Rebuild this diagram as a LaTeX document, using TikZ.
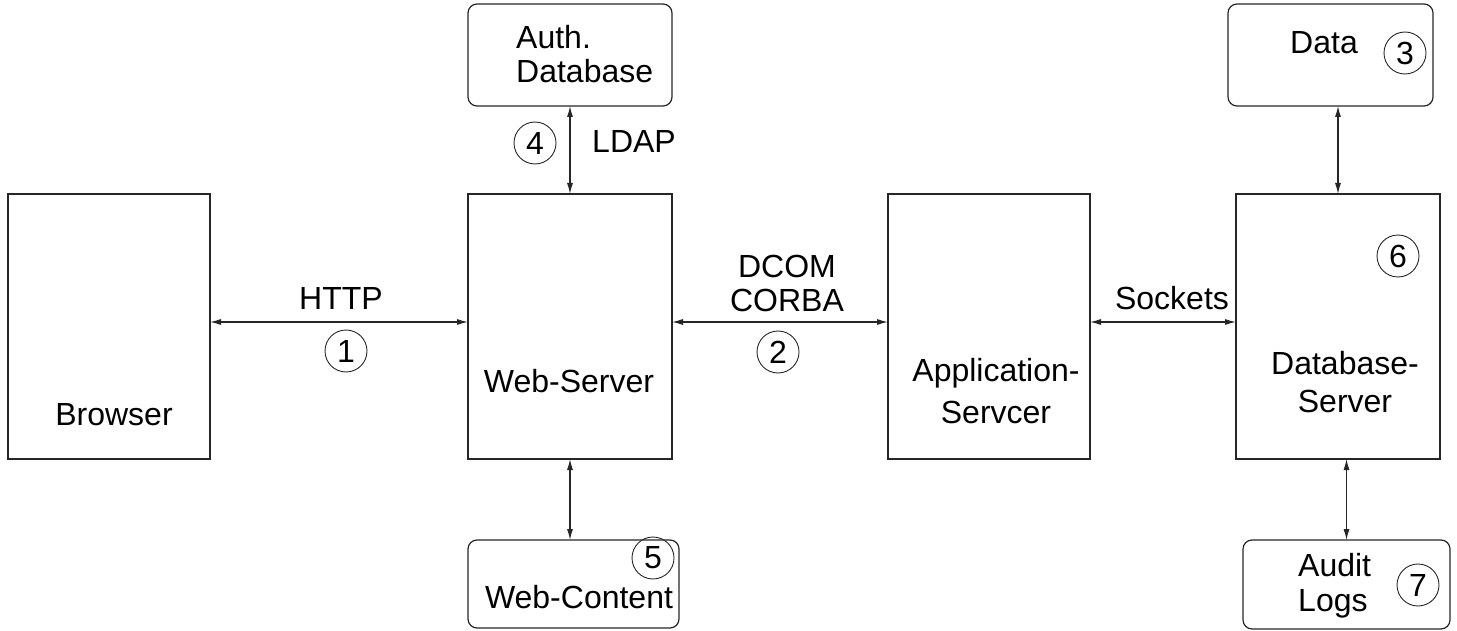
\documentclass[tikz,border=0pt]{standalone}
\usepackage{fontspec}
\setmainfont{Liberation Sans}
\usetikzlibrary{arrows.meta}
\begin{document}
\begin{tikzpicture}[x=1pt,y=-1pt,
  box/.style={draw=black!85,line width=1.2pt,inner sep=0pt,outer sep=0pt},
  rbox/.style={box,rounded corners=9pt},
  lbl/.style={inner sep=0pt,font=\fontsize{32}{34}\selectfont,anchor=base},
  num/.style={draw=black!85,line width=0.9pt,circle,inner sep=0pt,minimum size=42pt,font=\fontsize{32}{34}\selectfont},
  arr/.style={line width=1.1pt,draw=black!85,{Latex[length=11pt,width=6pt]}-{Latex[length=11pt,width=6pt]}}]
\path[use as bounding box] (0,0) rectangle (1457,631);
% boxes
\node[box,minimum width=202pt,minimum height=265pt] (browser) at (109,326.5) {};
\node[box,minimum width=204pt,minimum height=265pt] (web) at (570,326.5) {};
\node[box,minimum width=202pt,minimum height=265pt] (app) at (989,326.5) {};
\node[box,minimum width=204pt,minimum height=265pt] (db) at (1338,326.5) {};
\node[rbox,minimum width=204pt,minimum height=102pt] (auth) at (570,55) {};
\node[rbox,minimum width=205pt,minimum height=102pt] (data) at (1330.5,55) {};
\node[rbox,minimum width=211pt,minimum height=88pt] (content) at (573.5,584) {};
\node[rbox,minimum width=207pt,minimum height=89pt] (audit) at (1346.5,584.5) {};
% texts (multi-line nodes: base = baseline of last line)
\node[lbl] (tbrowser) at (114,425) {Browser};
\node[lbl] (tweb) at (569,392) {Web-Server};
\node[lbl,align=center,font=\fontsize{32}{42}\selectfont] (tapp) at (996,423) {Application-\\Servcer};
\node[lbl,align=center,font=\fontsize{32}{38}\selectfont] (tdb) at (1345,412) {Database-\\Server};
\node[lbl,align=left,font=\fontsize{32}{34}\selectfont,anchor=base west] (tauth) at (516,83) {Auth.\\Database};
\node[lbl] (tdata) at (1324,54) {Data};
\node[lbl,align=left,font=\fontsize{32}{35}\selectfont,anchor=base west] (taudit) at (1298,611) {Audit\\Logs};
\node[lbl] (tcontent) at (579,608) {Web-Content};
\node[lbl] (thttp) at (341,309) {HTTP};
\node[lbl,align=center,font=\fontsize{32}{34}\selectfont] (tdcom) at (787,312) {DCOM\\CORBA};
\node[lbl] (tsock) at (1172,309) {Sockets};
\node[lbl] (tldap) at (634,153) {LDAP};
% numbers
\node[num] (n1) at (346,351) {1};
\node[num] (n2) at (778,352) {2};
\node[num] (n3) at (1405,53) {3};
\node[num] (n4) at (535,143) {4};
\node[num] (n5) at (653,558) {5};
\node[num] (n6) at (1398,256) {6};
\node[num] (n7) at (1418,585) {7};
% connectors
\draw[arr] (browser.east |- 0,322) -- (web.west |- 0,322);
\draw[arr] (web.east |- 0,322) -- (app.west |- 0,322);
\draw[arr] (app.east |- 0,322) -- (db.west |- 0,322);
\draw[arr] (auth.south) -- (web.north);
\draw[arr] (web.south) -- (web.south |- content.north);
\draw[arr] (db.north |- data.south) -- (db.north);
\draw[arr] (audit.north |- db.south) -- (audit.north);
\end{tikzpicture}
\end{document}
